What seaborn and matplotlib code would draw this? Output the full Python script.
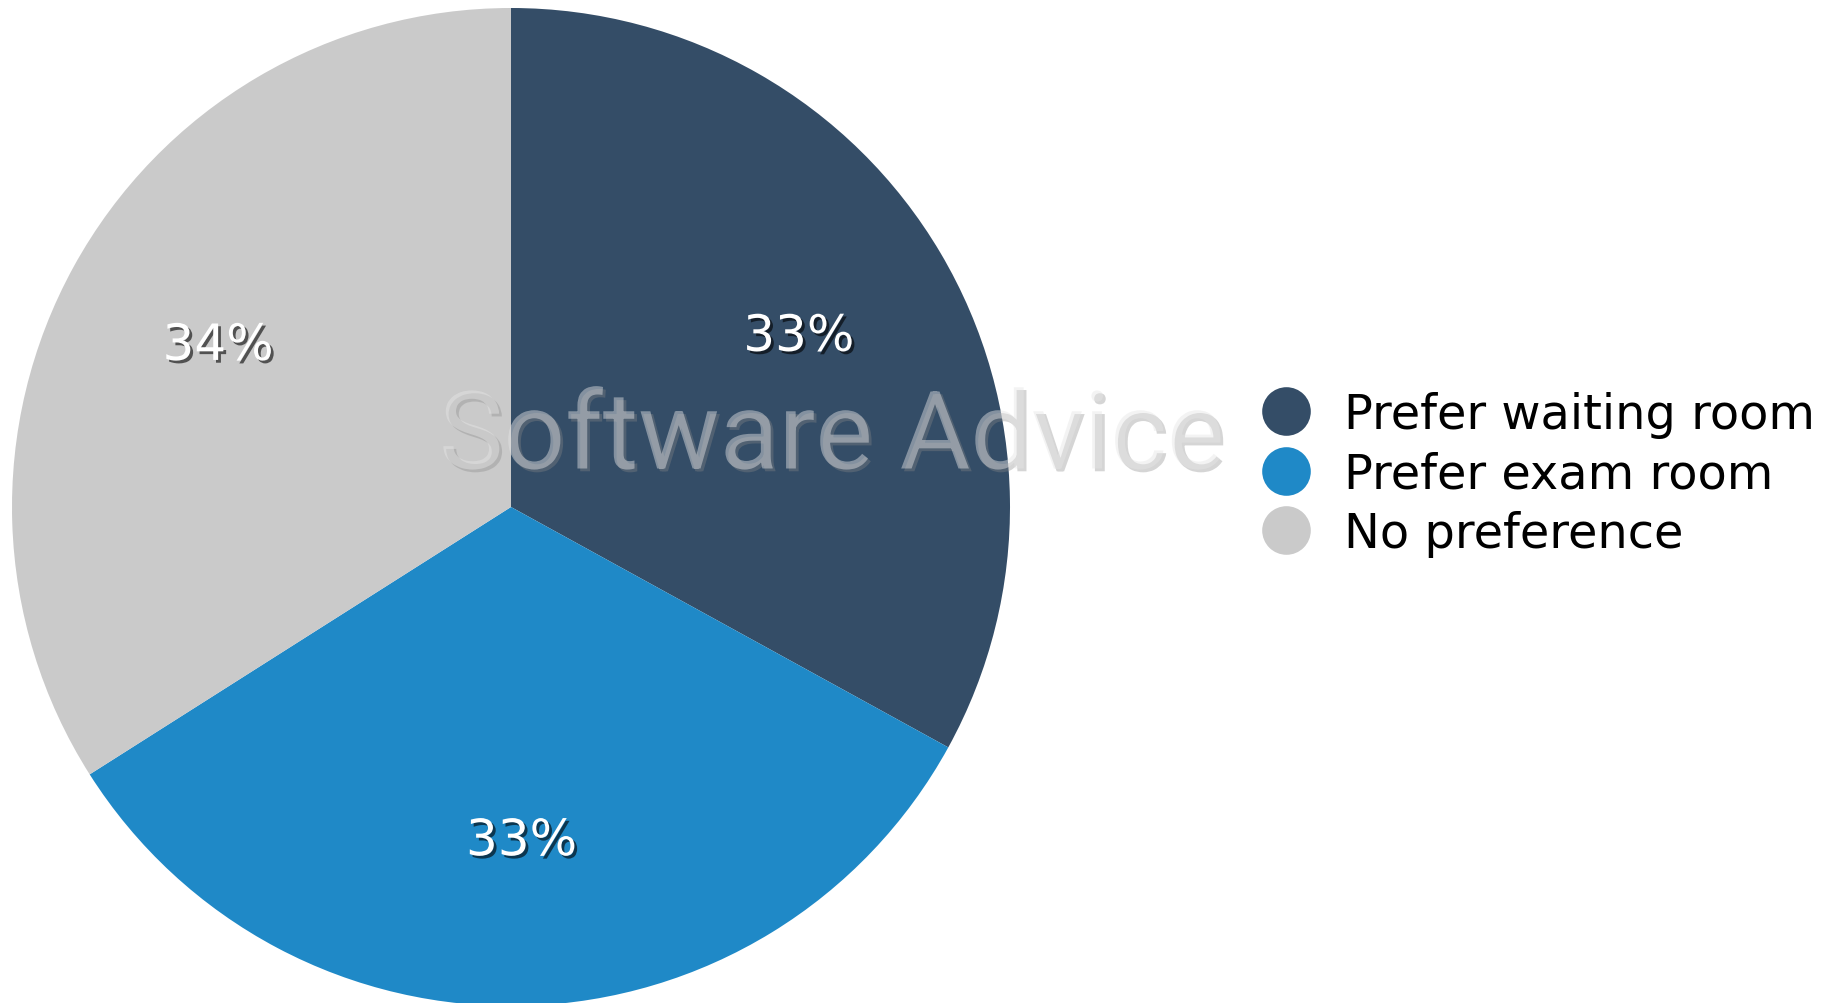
import matplotlib
matplotlib.use("Agg")
import matplotlib.pyplot as plt
import matplotlib.patheffects as pe
from matplotlib.lines import Line2D
from matplotlib import font_manager
import seaborn as sns

categories = ["Prefer waiting room", "Prefer exam room", "No preference"]
values = [33, 33, 34]
labels_pct = ["33%", "33%", "34%"]
colors = ["#344D67", "#1F89C7", "#CACACA"]

sns.set_theme(style="white")
plt.rcParams['font.family'] = ['DejaVu Sans']

W, H = 1838, 1004
fig = plt.figure(figsize=(W / 100, H / 100), dpi=100)
fig.patch.set_facecolor("white")

cx, cy, r = 511, 496, 499
ax = fig.add_axes([(cx - r) / W, (cy - r) / H, 2 * r / W, 2 * r / H])

wedges, texts, autotexts = ax.pie(
    values, colors=sns.color_palette(colors), startangle=90, counterclock=False,
    autopct=lambda p: f"{p:.0f}%", pctdistance=0.67, radius=1.0,
    wedgeprops=dict(linewidth=0),
    textprops=dict(color="white", fontsize=36),
)
for t, lab in zip(autotexts, labels_pct):
    t.set_text(lab)
    t.set_path_effects([pe.SimplePatchShadow(offset=(2, -2), shadow_rgbFace="black", alpha=0.6), pe.Normal()])
ax.set_xlim(-1, 1)
ax.set_ylim(-1, 1)
ax.set_aspect("equal")
ax.axis("off")

# watermark
names = {f.name for f in font_manager.fontManager.ttflist}
if "Liberation Sans Narrow" in names:
    wm_family, wm_size = "Liberation Sans Narrow", 88
else:
    wm_family, wm_size = "Roboto", 78
fig.text(832 / W, 1 - 440 / H, "Software Advice", fontsize=wm_size, color="#e6e6e6", alpha=0.45,
         family=[wm_family, "DejaVu Sans"], ha="center", va="center",
         path_effects=[pe.SimplePatchShadow(offset=(2, -2), shadow_rgbFace="#888888", alpha=0.35), pe.Normal()])

handles = [Line2D([0], [0], marker="o", linestyle="none", markersize=35,
                  markerfacecolor=c, markeredgewidth=0) for c in colors]
fig.legend(handles, categories, loc="center left", bbox_to_anchor=(1262 / W, 1 - 475 / H),
           frameon=False, fontsize=34.5, handlelength=1.0, handletextpad=0.72,
           labelspacing=0.26, borderpad=0, borderaxespad=0, labelcolor="black")

fig.savefig("out.png", dpi=100)
